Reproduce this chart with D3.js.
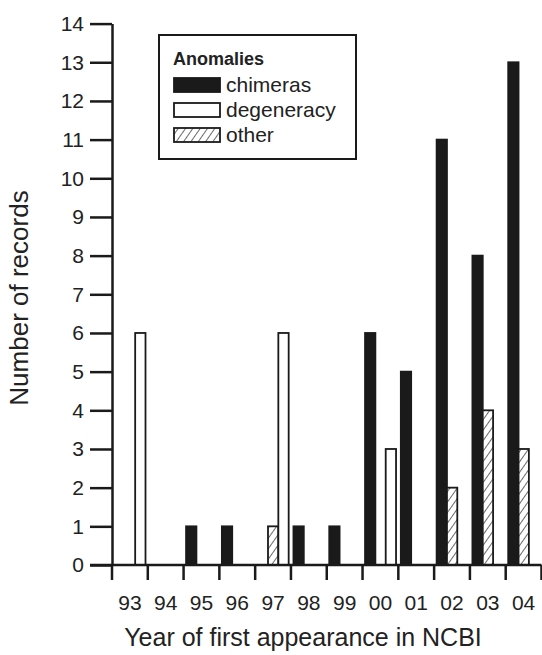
<!DOCTYPE html>
<html><head><meta charset="utf-8">
<script src="https://cdn.jsdelivr.net/npm/d3@7"></script>
<style>body{margin:0;background:#fff}text{font-family:"Liberation Sans",Arial,sans-serif;fill:#222}</style>
</head><body><div id="chart"></div>
<script>
const years = ["93","94","95","96","97","98","99","00","01","02","03","04"];
const chimeras = [0,0,1,1,0,1,1,6,5,11,8,13];
const degeneracy = [6,0,0,0,6,0,0,3,0,0,0,0];
const other = [0,0,0,0,1,0,0,0,0,2,4,3];
const seriesNames = ["chimeras","other","degeneracy"]; // slot order inside a year
const legendNames = ["chimeras","degeneracy","other"];

const width = 542, height = 655;
const ink = "#1a1a1a";
const svg = d3.select("#chart").append("svg").attr("width", width).attr("height", height);

const defs = svg.append("defs");
const pat = defs.append("pattern").attr("id","hatch").attr("patternUnits","userSpaceOnUse")
  .attr("width",6).attr("height",6).attr("patternTransform","rotate(35)");
pat.append("rect").attr("width",6).attr("height",6).attr("fill","#fff");
pat.append("line").attr("x1",0).attr("y1",0).attr("x2",0).attr("y2",6).attr("stroke",ink).attr("stroke-width",1.3);

const fills = { chimeras: ink, degeneracy: "#fff", other: "url(#hatch)" };
const values = { chimeras, degeneracy, other };

const x = d3.scaleBand().domain(years).range([112, 541.5]);
const xi = d3.scaleBand().domain(seriesNames).range([2.5, 33.5]);
const y = d3.scaleLinear().domain([0, 14]).range([565, 23.6]);

// bars
const rows = [];
seriesNames.forEach(s => years.forEach((yr, i) => { if (values[s][i] > 0) rows.push({ s, yr, v: values[s][i] }); }));
svg.append("g").selectAll("rect").data(rows).enter().append("rect")
  .attr("x", d => x(d.yr) + xi(d.s))
  .attr("y", d => y(d.v))
  .attr("width", xi.bandwidth())
  .attr("height", d => y(0) - y(d.v))
  .attr("fill", d => fills[d.s])
  .attr("stroke", ink).attr("stroke-width", 1.8);

// y axis
const ya = svg.append("g").attr("transform", "translate(112,0)")
  .call(d3.axisLeft(y).ticks(14).tickSize(22).tickSizeOuter(0).tickPadding(6));
ya.selectAll("text").style("font-size", "21px");
ya.selectAll("line, path").attr("stroke", ink).attr("stroke-width", 2.5);

// x axis
const xa = svg.append("g").attr("transform", "translate(0,565)")
  .call(d3.axisBottom(x).tickSize(0).tickPadding(30));
xa.selectAll("text").style("font-size", "21px");
xa.select(".domain").remove();
svg.append("line").attr("x1", 90).attr("x2", 541.5).attr("y1", 565).attr("y2", 565)
  .attr("stroke", ink).attr("stroke-width", 2.5);
svg.append("g").selectAll("line").data(years.concat(["end"])).enter().append("line")
  .attr("x1", d => d === "end" ? x.range()[1] : x(d))
  .attr("x2", d => d === "end" ? x.range()[1] : x(d))
  .attr("y1", 565).attr("y2", 580)
  .attr("stroke", ink).attr("stroke-width", 2.5);

// titles
svg.append("text").attr("x", 303).attr("y", 646).attr("text-anchor", "middle")
  .style("font-size", "25px").text("Year of first appearance in NCBI");
svg.append("text").attr("transform", "translate(28,298) rotate(-90)").attr("text-anchor", "middle")
  .style("font-size", "26px").text("Number of records");

// legend
const lg = svg.append("g");
lg.append("rect").attr("x", 159).attr("y", 35).attr("width", 197).attr("height", 124)
  .attr("fill", "#fff").attr("stroke", ink).attr("stroke-width", 2);
lg.append("text").attr("x", 173).attr("y", 65).style("font-size", "18px").style("font-weight", "bold").text("Anomalies");
const ly = d3.scalePoint().domain(legendNames).range([85, 135]);
const items = lg.selectAll("g.item").data(legendNames).enter().append("g").attr("class", "item")
  .attr("transform", d => `translate(173,${ly(d)})`);
items.append("rect").attr("x", 1).attr("y", -7).attr("width", 46).attr("height", 14)
  .attr("fill", d => fills[d]).attr("stroke", ink).attr("stroke-width", 1.8);
items.append("text").attr("x", 53).attr("y", 7).style("font-size", "21px").text(d => d);
</script></body></html>
